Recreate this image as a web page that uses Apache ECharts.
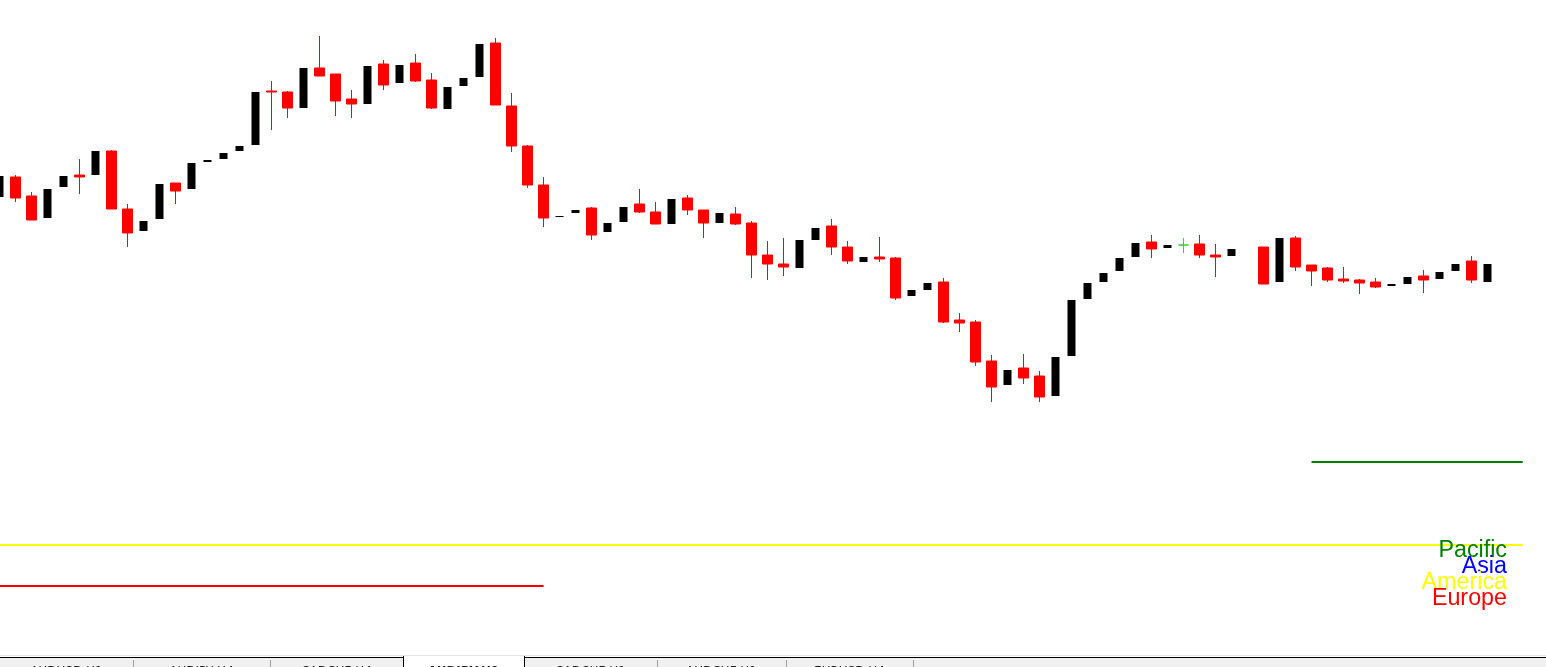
<!DOCTYPE html>
<html>
<head>
<meta charset="utf-8">
<script src="https://cdn.jsdelivr.net/npm/echarts@6/dist/echarts.min.js"></script>
<style>
html,body{margin:0;padding:0;background:#fff;overflow:hidden;}
#chart{width:1546px;height:667px;}
</style>
</head>
<body>
<div id="chart"></div>
<script>
// AUDJPY H1 candles (index 78 has no bar)
const open  = [97.295,97.395,97.300,97.190,97.345,97.405,97.405,97.525,97.235,97.125,
               97.185,97.365,97.335,97.470,97.485,97.525,97.555,97.825,97.820,97.740,
               97.940,97.910,97.785,97.760,97.960,97.865,97.965,97.880,97.735,97.850,
               97.895,98.065,97.750,97.550,97.355,97.195,97.215,97.240,97.120,97.170,
               97.260,97.220,97.160,97.290,97.230,97.165,97.210,97.165,97.005,96.960,
               96.940,97.080,97.150,97.045,96.970,96.995,96.990,96.800,96.830,96.870,
               96.680,96.670,96.475,96.355,96.440,96.400,96.300,96.500,96.785,96.870,
               96.925,96.995,97.070,97.040,97.055,97.060,97.005,97.000,null,97.045,
               96.870,97.090,96.955,96.940,96.885,96.880,96.870,96.850,96.860,96.900,
               96.885,96.925,96.975,96.870];
const high  = [97.400,97.405,97.320,97.335,97.400,97.485,97.525,97.530,97.260,97.175,
               97.360,97.365,97.465,97.480,97.515,97.550,97.820,97.875,97.825,97.940,
               98.100,97.910,97.830,97.950,97.980,97.955,98.010,97.915,97.845,97.890,
               98.060,98.090,97.815,97.555,97.395,97.200,97.230,97.245,97.165,97.245,
               97.335,97.270,97.285,97.305,97.230,97.215,97.245,97.175,97.075,97.090,
               97.080,97.140,97.185,97.075,96.995,97.095,96.995,96.830,96.865,96.890,
               96.715,96.680,96.505,96.430,96.510,96.425,96.495,96.780,96.865,96.915,
               96.990,97.065,97.105,97.055,97.090,97.105,97.060,97.035,null,97.045,
               97.090,97.100,96.955,96.945,96.945,96.885,96.890,96.860,96.895,96.930,
               96.920,96.960,97.000,96.960];
const low   = [97.295,97.270,97.180,97.190,97.345,97.310,97.405,97.235,97.045,97.125,
               97.185,97.260,97.335,97.470,97.485,97.525,97.555,97.630,97.690,97.740,
               97.900,97.700,97.690,97.760,97.830,97.865,97.870,97.735,97.735,97.850,
               97.895,97.755,97.520,97.340,97.145,97.195,97.215,97.080,97.120,97.170,
               97.215,97.160,97.160,97.205,97.090,97.165,97.155,96.890,96.880,96.900,
               96.940,97.080,97.005,96.960,96.970,96.970,96.780,96.800,96.830,96.665,
               96.620,96.450,96.270,96.355,96.360,96.270,96.300,96.500,96.785,96.870,
               96.925,96.995,96.990,97.040,97.015,96.990,96.895,97.000,null,96.860,
               96.870,96.925,96.850,96.870,96.865,96.810,96.840,96.850,96.860,96.815,
               96.885,96.925,96.865,96.870];
const close = [97.400,97.290,97.180,97.335,97.400,97.395,97.525,97.235,97.115,97.175,
               97.360,97.325,97.465,97.480,97.515,97.550,97.820,97.820,97.740,97.940,
               97.900,97.775,97.760,97.950,97.855,97.955,97.875,97.740,97.845,97.890,
               98.060,97.755,97.550,97.355,97.190,97.200,97.230,97.105,97.165,97.245,
               97.220,97.160,97.285,97.230,97.165,97.215,97.160,97.005,96.960,96.945,
               97.080,97.140,97.045,96.975,96.995,96.985,96.790,96.830,96.865,96.670,
               96.665,96.470,96.345,96.430,96.390,96.295,96.495,96.780,96.865,96.915,
               96.990,97.065,97.035,97.055,97.055,97.005,96.995,97.035,null,96.860,
               97.090,96.945,96.925,96.880,96.875,96.865,96.845,96.860,96.895,96.880,
               96.920,96.960,96.880,96.960];
const slotCount = 97;                       // bars + right shift
const categories = Array.from({length: slotCount}, (_, i) => 'H' + i);

// Session levels: [startIndex, endIndex, price]
const europe  = [-0.5, 34.0, 95.350];
const america = [-0.5, 95.2, 95.555];
const pacific = [82.0, 95.2, 95.970];
const sessionNames  = ['Pacific', 'Asia', 'America', 'Europe'];
const sessionColors = ['#008000', '#0000ff', '#ffff00', '#ff0000'];
const tabLabels = ['AUDUSD,H1','AUDJPY,H4','CADCHF,H4','AUDJPY,H1','CADCHF,H1','AUDCHF,H1','EURUSD,H4'];
const tabEdges  = [0,133,270,403,524,657,786,913];
const activeTab = 3;

const up = [], down = [], doji = [];
for (let i = 0; i < open.length; i++) {
  if (open[i] == null) { up.push('-'); down.push('-'); doji.push('-'); continue; }
  const d = [open[i], close[i], low[i], high[i]];
  if (close[i] > open[i]) { up.push(d); down.push('-'); doji.push('-'); }
  else if (close[i] < open[i]) { down.push(d); up.push('-'); doji.push('-'); }
  else { doji.push(d); up.push('-'); down.push('-'); }
}

function lineSeries(seg, color) {
  return {
    type: 'line', xAxisIndex: 1, yAxisIndex: 0, silent: true,
    symbol: 'none', animation: false,
    data: [[seg[0], seg[2]], [seg[1], seg[2]]],
    lineStyle: { color: color, width: 2 }
  };
}

const graphics = [];
// session labels
const baseY = [550.5, 566.5, 582.5, 598.8];
sessionNames.forEach((n, i) => {
  graphics.push({
    type: 'text', x: 1507, y: baseY[i], silent: true, z: 100,
    style: { text: n, fill: sessionColors[i], font: '23.3px "Liberation Sans", Arial, sans-serif',
             align: 'right', verticalAlign: 'middle', textAlign: 'right', textVerticalAlign: 'middle' }
  });
});
// tab bar
graphics.push({ type: 'rect', shape: {x: 0, y: 655, width: 1546, height: 1}, style: {fill: '#e3e3e3'}, silent: true, z: 100 });
graphics.push({ type: 'rect', shape: {x: 0, y: 657, width: 1546, height: 10}, style: {fill: '#f0f0f0'}, silent: true, z: 100 });
graphics.push({ type: 'rect', shape: {x: 0, y: 657, width: 1546, height: 1}, style: {fill: '#000'}, silent: true, z: 101 });
graphics.push({ type: 'rect', shape: {x: tabEdges[activeTab], y: 656, width: tabEdges[activeTab+1]-tabEdges[activeTab], height: 11}, style: {fill: '#ffffff'}, silent: true, z: 102 });
graphics.push({ type: 'rect', shape: {x: tabEdges[activeTab], y: 656, width: 1, height: 11}, style: {fill: '#000'}, silent: true, z: 103 });
graphics.push({ type: 'rect', shape: {x: tabEdges[activeTab+1], y: 656, width: 1, height: 11}, style: {fill: '#000'}, silent: true, z: 103 });
for (let i = 1; i < tabEdges.length; i++) {
  if (i === activeTab || i === activeTab + 1) continue;
  graphics.push({ type: 'rect', shape: {x: tabEdges[i], y: 660, width: 1, height: 7}, style: {fill: '#a0a0a0'}, silent: true, z: 103 });
}
tabLabels.forEach((t, i) => {
  graphics.push({
    type: 'text', x: (tabEdges[i] + tabEdges[i+1]) / 2, y: 665.5, silent: true, z: 104,
    style: { text: t, fill: '#1a1a1a', font: (i === activeTab ? 'bold ' : '') + '12px "DejaVu Sans", sans-serif',
             align: 'center', verticalAlign: 'top', textAlign: 'center', textVerticalAlign: 'top' }
  });
});

const chart = echarts.init(document.getElementById('chart'), null, {renderer: 'canvas'});
chart.setOption({
  animation: false,
  backgroundColor: '#ffffff',
  grid: { left: -8.5, right: 2.5, top: 0, height: 656, outerBoundsMode: 'none', containLabel: false },
  xAxis: [
    { type: 'category', data: categories, boundaryGap: true, show: false },
    { type: 'value', min: -0.5, max: slotCount - 0.5, show: false }
  ],
  yAxis: { type: 'value', min: 95.0, max: 98.28, show: false, splitLine: {show: false} },
  series: [
    { type: 'candlestick', name: 'up', data: up, barWidth: 9,
      itemStyle: { color: '#000', color0: '#000', borderColor: '#000', borderColor0: '#000', borderWidth: 0 } },
    { type: 'candlestick', name: 'down', data: down, barWidth: 10,
      itemStyle: { color: '#ff0000', color0: '#ff0000', borderColor: '#ff0000', borderColor0: '#ff0000', borderWidth: 1 } },
    { type: 'candlestick', name: 'doji', data: doji, barWidth: 10,
      itemStyle: { color: '#22dd22', color0: '#22dd22', borderColor: '#22dd22', borderColor0: '#22dd22', borderColorDoji: '#22dd22', borderWidth: 1 } },
    lineSeries(europe, '#ff0000'),
    lineSeries(america, '#ffff00'),
    lineSeries(pacific, '#008000')
  ],
  graphic: graphics
});
</script>
</body>
</html>
